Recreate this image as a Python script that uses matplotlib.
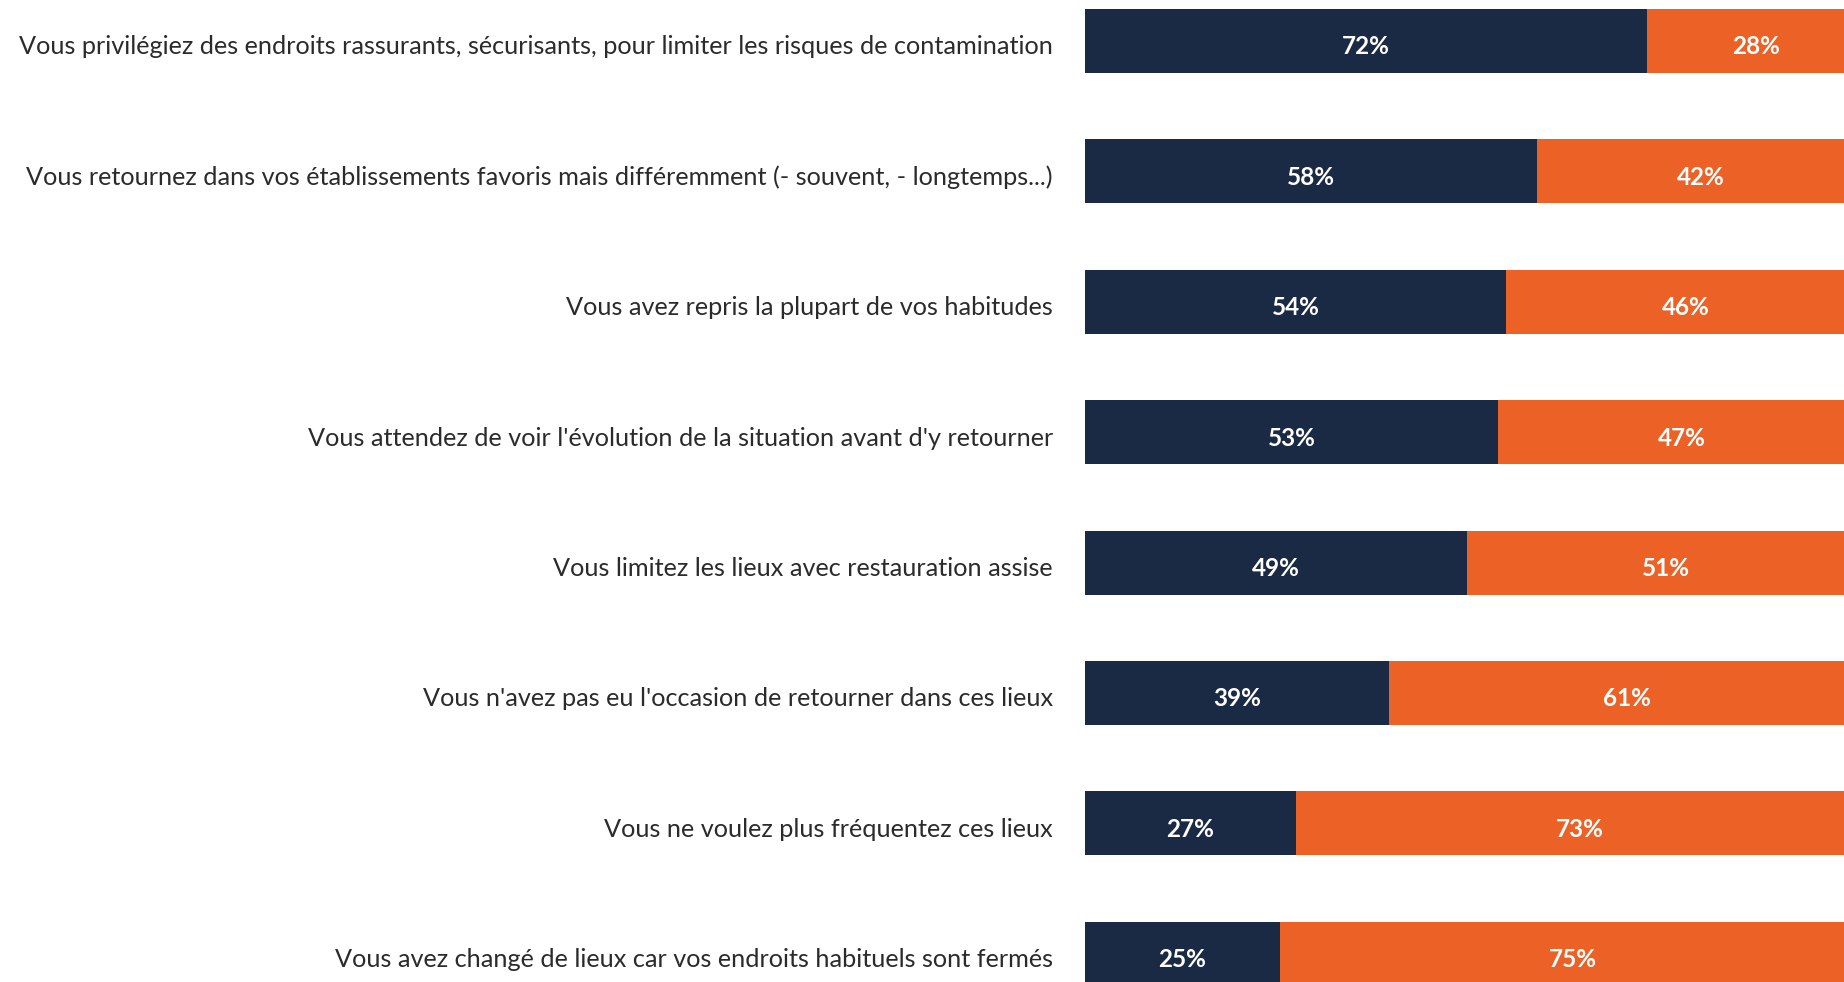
import matplotlib
matplotlib.use("Agg")
import matplotlib.pyplot as plt
import matplotlib.transforms as mtransforms
import numpy as np

# data
categories = [
    "Vous privilégiez des endroits rassurants, sécurisants, pour limiter les risques de contamination",
    "Vous retournez dans vos établissements favoris mais différemment (- souvent, - longtemps...)",
    "Vous avez repris la plupart de vos habitudes",
    "Vous attendez de voir l'évolution de la situation avant d'y retourner",
    "Vous limitez les lieux avec restauration assise",
    "Vous n'avez pas eu l'occasion de retourner dans ces lieux",
    "Vous ne voulez plus fréquentez ces lieux",
    "Vous avez changé de lieux car vos endroits habituels sont fermés",
]
oui = [72, 58, 54, 53, 49, 39, 27, 25]
non = [28, 42, 46, 47, 51, 61, 73, 75]

NAVY = "#1B2A44"
ORANGE = "#EB6126"

W, H = 1844, 982
fig = plt.figure(figsize=(W / 100, H / 100), dpi=100)
ax = fig.add_axes([1085 / W, 0, 1 - 1085 / W, 1])

y = np.arange(len(categories))
bh = 64 / 130.4
ax.barh(y, oui, height=bh, color=NAVY)
ax.barh(y, non, left=oui, height=bh, color=ORANGE)

# text sits a little below the bar centre in the original
down = mtransforms.ScaledTranslation(0, -6 / 100, fig.dpi_scale_trans)
lab_tr = mtransforms.blended_transform_factory(ax.transAxes, ax.transData)

for i in range(len(categories)):
    ax.text(oui[i] / 2, y[i], f"{oui[i]}%", ha="center", va="center",
            color="white", fontsize=17.5, fontweight="bold", family="Lato",
            transform=ax.transData + down)
    ax.text(oui[i] + non[i] / 2, y[i], f"{non[i]}%", ha="center", va="center",
            color="white", fontsize=17.5, fontweight="bold", family="Lato",
            transform=ax.transData + down)
    ax.text(-32 / (W - 1085), y[i], categories[i], ha="right", va="center",
            color="#2b2b2b", fontsize=18.2, family="Lato",
            transform=lab_tr + down, clip_on=False)

# bars run past the right edge of the picture
ax.set_xlim(0, 100 * (W - 1085) / 780)
ax.set_ylim((H - 41) / 130.4, -41 / 130.4)

ax.set_xticks([])
ax.set_yticks([])
for s in ax.spines.values():
    s.set_visible(False)

plt.savefig("out.png", dpi=100)
plt.close()
